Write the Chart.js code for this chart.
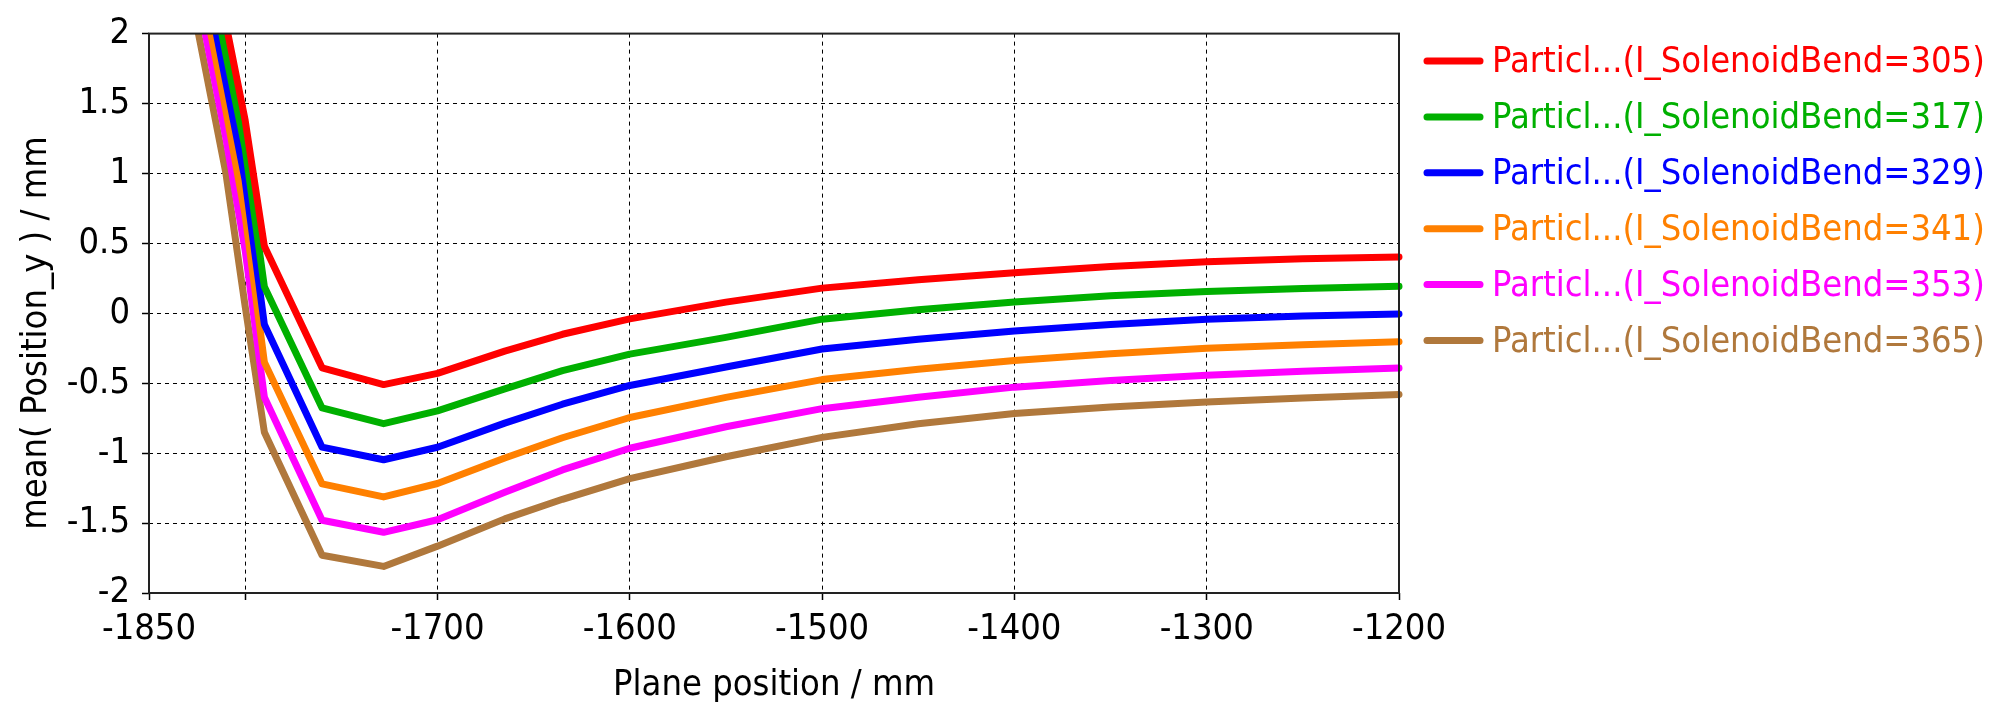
<!DOCTYPE html>
<html><head><meta charset="utf-8">
<script src="https://cdn.jsdelivr.net/npm/chart.js@4.4.0/dist/chart.umd.min.js"></script>
<style>html,body{margin:0;padding:0;background:#fff;overflow:hidden}</style>
</head><body>
<canvas id="c" width="1990" height="704" style="width:1990px;height:704px;display:block"></canvas>
<script>
const planePositions = [-1830, -1810, -1800, -1790, -1760, -1728, -1700, -1665, -1635, -1600, -1550, -1500, -1450, -1400, -1350, -1300, -1250, -1200];
const seriesLabels = [
  'Particl...(I_SolenoidBend=305)',
  'Particl...(I_SolenoidBend=317)',
  'Particl...(I_SolenoidBend=329)',
  'Particl...(I_SolenoidBend=341)',
  'Particl...(I_SolenoidBend=353)',
  'Particl...(I_SolenoidBend=365)'
];
const bend305 = [3.45, 2.07, 1.38, 0.48, -0.39, -0.51, -0.43, -0.27, -0.15, -0.04, 0.08, 0.18, 0.24, 0.29, 0.335, 0.368, 0.39, 0.403];
const bend317 = [3.25, 1.85, 1.18, 0.19, -0.677, -0.789, -0.698, -0.54, -0.41, -0.292, -0.172, -0.042, 0.025, 0.08, 0.125, 0.156, 0.178, 0.193];
const bend329 = [3.05, 1.65, 0.95, -0.08, -0.957, -1.047, -0.958, -0.785, -0.65, -0.516, -0.384, -0.255, -0.185, -0.127, -0.08, -0.042, -0.02, -0.005];
const bend341 = [2.85, 1.45, 0.70, -0.35, -1.22, -1.313, -1.217, -1.035, -0.89, -0.745, -0.601, -0.474, -0.40, -0.337, -0.29, -0.25, -0.225, -0.203];
const bend353 = [2.65, 1.25, 0.45, -0.60, -1.48, -1.566, -1.476, -1.28, -1.12, -0.965, -0.811, -0.682, -0.60, -0.528, -0.48, -0.443, -0.415, -0.392];
const bend365 = [2.40, 1.00, 0.05, -0.85, -1.73, -1.81, -1.665, -1.47, -1.33, -1.182, -1.026, -0.887, -0.79, -0.717, -0.67, -0.634, -0.605, -0.58];
const seriesColors = ['#ff0000', '#00b000', '#0000ff', '#ff8000', '#ff00ff', '#b0783c'];
const xTickValues = [-1850, -1800, -1700, -1600, -1500, -1400, -1300, -1200];
const xTickLabels = ['-1850', '', '-1700', '-1600', '-1500', '-1400', '-1300', '-1200'];
const yTickValues = [-2, -1.5, -1, -0.5, 0, 0.5, 1, 1.5, 2];
const yTickLabels = ['-2', '-1.5', '-1', '-0.5', '0', '0.5', '1', '1.5', '2'];
const xTitle = 'Plane position / mm';
const yTitle = 'mean( Position_y ) / mm';

const FONT_FAMILY = "'DejaVu Sans Condensed', 'DejaVu Sans', sans-serif";
const FONT_SIZE = 36;

const allSeries = [bend305, bend317, bend329, bend341, bend353, bend365];
const datasets = allSeries.map((vals, i) => ({
  label: seriesLabels[i],
  data: planePositions.map((x, j) => ({x: x, y: vals[j]})),
  borderColor: seriesColors[i],
  backgroundColor: seriesColors[i],
  borderWidth: 7,
  pointRadius: 0,
  tension: 0,
  fill: false,
  borderCapStyle: 'round',
  borderJoinStyle: 'round',
  clip: {left: 0, top: 0, right: 6, bottom: 0}
}));

const decorPlugin = {
  id: 'decor',
  afterDraw(chart) {
    const ctx = chart.ctx;
    const ca = chart.chartArea;
    ctx.save();
    ctx.strokeStyle = '#222';
    ctx.lineWidth = 2;
    ctx.setLineDash([]);
    ctx.strokeRect(ca.left, ca.top, ca.right - ca.left, ca.bottom - ca.top);
    ctx.fillStyle = '#000';
    ctx.font = FONT_SIZE + 'px ' + FONT_FAMILY;
    ctx.textAlign = 'center';
    ctx.textBaseline = 'alphabetic';
    ctx.fillText(xTitle, (ca.left + ca.right) / 2, 695);
    ctx.save();
    ctx.translate(46, 333);
    ctx.rotate(-Math.PI / 2);
    ctx.fillText(yTitle, 0, 0);
    ctx.restore();
    chart.data.datasets.forEach((ds, i) => {
      const y = 61 + 55.9 * i;
      ctx.strokeStyle = ds.borderColor;
      ctx.lineWidth = 7;
      ctx.lineCap = 'round';
      ctx.beginPath();
      ctx.moveTo(1427, y);
      ctx.lineTo(1480, y);
      ctx.stroke();
      ctx.fillStyle = ds.borderColor;
      ctx.textAlign = 'left';
      ctx.textBaseline = 'middle';
      ctx.fillText(ds.label, 1492, y + 2);
    });
    ctx.restore();
  }
};

new Chart(document.getElementById('c'), {
  type: 'line',
  data: {datasets: datasets},
  options: {
    responsive: false,
    animation: false,
    devicePixelRatio: 1,
    layout: {padding: {top: 29, right: 591, left: 0, bottom: 0}},
    plugins: {legend: {display: false}, tooltip: {enabled: false}, title: {display: false}},
    scales: {
      x: {
        type: 'linear',
        min: -1850, max: -1200,
        afterBuildTicks: (s) => { s.ticks = xTickValues.map(v => ({value: v})); },
        afterFit: (s) => { s.height = 111; },
        ticks: {
          autoSkip: false, maxRotation: 0, minRotation: 0,
          padding: 8,
          color: '#000',
          font: {family: FONT_FAMILY, size: FONT_SIZE},
          callback: (v, i) => xTickLabels[i]
        },
        grid: {color: '#000', lineWidth: 1, tickLength: 7, tickColor: '#000', tickWidth: 1.5, tickBorderDash: [], drawTicks: true},
        border: {display: false, dash: [4, 4]}
      },
      y: {
        type: 'linear',
        min: -2, max: 2,
        afterBuildTicks: (s) => { s.ticks = yTickValues.map(v => ({value: v})); },
        afterFit: (s) => { s.width = 149; },
        ticks: {
          padding: 12,
          color: '#000',
          font: {family: FONT_FAMILY, size: FONT_SIZE},
          callback: (v, i) => yTickLabels[i]
        },
        grid: {color: '#000', lineWidth: 1, tickLength: 7, tickColor: '#000', tickWidth: 1.5, tickBorderDash: [], drawTicks: true},
        border: {display: false, dash: [4, 4]}
      }
    }
  },
  plugins: [decorPlugin]
});
</script>
</body></html>
